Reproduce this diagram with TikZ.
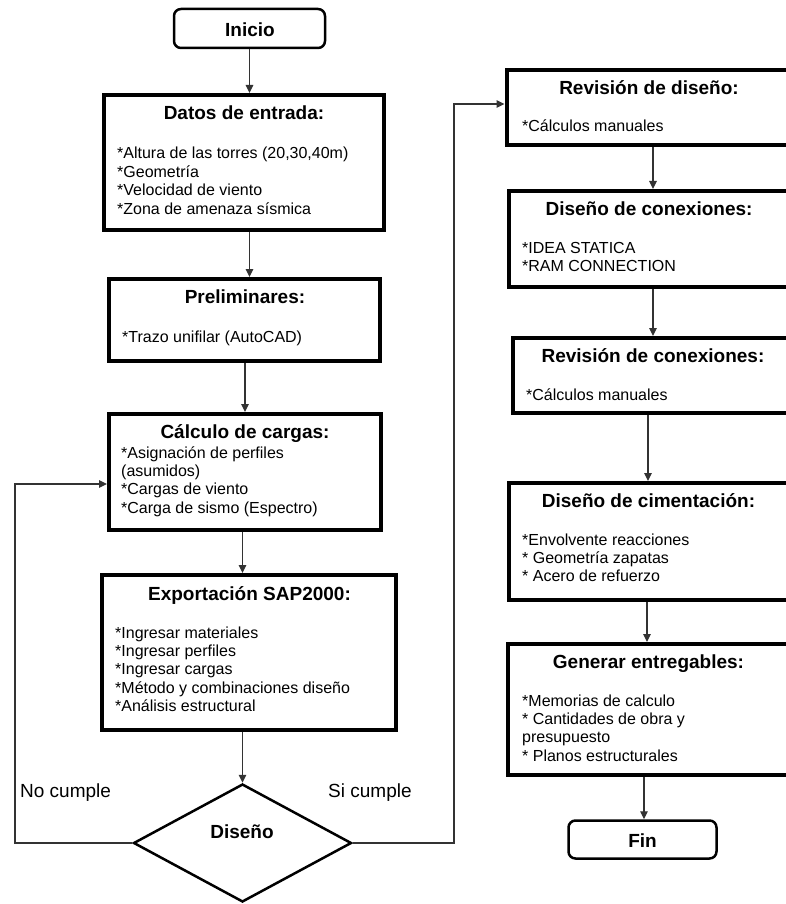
\documentclass[tikz,border=0pt]{standalone}
\usepackage{fontspec}
\setmainfont{Liberation Sans}
\usetikzlibrary{arrows.meta,shapes.geometric}
\newcommand\itemlist[1]{\begin{tabular}[t]{@{}l@{}}#1\end{tabular}}
\newcommand\nl{\\\relax}
\begin{document}
\begin{tikzpicture}[x=1pt,y=-1pt,
  box/.style={draw=black, line width=4pt, rectangle, inner sep=0pt},
  term/.style={draw=black, line width=2.5pt, rectangle, rounded corners=7pt, inner sep=0pt},
  dec/.style={draw=black, line width=2.5pt, diamond, inner sep=0pt},
  ttl/.style={font=\fontsize{19}{21}\selectfont\bfseries, anchor=base, inner sep=0pt},
  itm/.style={font=\fontsize{16}{18.4}\selectfont, anchor=base west, inner sep=0pt},
  lbl/.style={font=\fontsize{19}{21}\selectfont, anchor=base west, inner sep=0pt},
  arr/.style={draw=black!80, line width=1.1pt, -{Triangle[length=8pt,width=7.5pt]}},
]
\useasboundingbox (0,0) rectangle (786,904);
\clip (0,0) rectangle (786,904);
\fill[white] (0,0) rectangle (786,904);

% left column
\node[term, minimum width=151pt, minimum height=39pt] (inicio) at (249.5,28.5) {};
\node[box, minimum width=280pt, minimum height=135pt] (datos) at (244,162.5) {};
\node[box, minimum width=271pt, minimum height=82pt] (prelim) at (244.5,320) {};
\node[box, minimum width=272pt, minimum height=116pt] (calc) at (245,472) {};
\node[box, minimum width=294pt, minimum height=155pt] (export) at (249,652.5) {};
\node[dec, minimum width=218pt, minimum height=118pt] (dis) at (242.5,843) {};

% right column
\node[box, minimum width=284pt, minimum height=75pt] (rev) at (648.5,107.5) {};
\node[box, minimum width=282pt, minimum height=96pt] (con) at (649.5,239) {};
\node[box, minimum width=278pt, minimum height=75pt] (revcon) at (651.5,375.5) {};
\node[box, minimum width=282pt, minimum height=117pt] (cim) at (649.5,541.5) {};
\node[box, minimum width=283pt, minimum height=131pt] (ent) at (649,709.5) {};
\node[term, minimum width=148pt, minimum height=38pt] (fin) at (642.5,839.5) {};

% texts
\node[ttl] (tinicio) at (250,37) {Inicio};
\node[ttl] (tdatos) at (244,120) {Datos de entrada:};
\node[itm] (idatos) at (117,159) {\itemlist{*Altura de las torres (20,30,40m)\nl *Geometría\nl *Velocidad de viento\nl *Zona de amenaza sísmica}};
\node[ttl] (tprelim) at (245,303) {Preliminares:};
\node[itm] (iprelim) at (122,342) {\itemlist{*Trazo unifilar (AutoCAD)}};
\node[ttl] (tcalc) at (245,438) {Cálculo de cargas:};
\node[itm] (icalc) at (121,458) {\itemlist{*Asignación de perfiles\nl (asumidos)\nl *Cargas de viento\nl *Carga de sismo (Espectro)}};
\node[ttl] (texport) at (249.5,600) {Exportación SAP2000:};
\node[itm] (iexport) at (115,638) {\itemlist{*Ingresar materiales\nl *Ingresar perfiles\nl *Ingresar cargas\nl *Método y combinaciones diseño\nl *Análisis estructural}};
\node[ttl] (tdis) at (242,838) {Diseño};
\node[lbl] (lno) at (20,797) {No cumple};
\node[lbl] (lsi) at (328,797) {Si cumple};

\node[ttl] (trev) at (649,95) {Revisión de diseño:};
\node[itm] (irev) at (522,132) {\itemlist{*Cálculos manuales}};
\node[ttl] (tcon) at (649,215) {Diseño de conexiones:};
\node[itm] (icon) at (522,253) {\itemlist{*IDEA STATICA\nl *RAM CONNECTION}};
\node[ttl] (trevcon) at (653,362) {Revisión de conexiones:};
\node[itm] (irevcon) at (526,400) {\itemlist{*Cálculos manuales}};
\node[ttl] (tcim) at (648.5,507) {Diseño de cimentación:};
\node[itm] (icim) at (522,545) {\itemlist{*Envolvente reacciones\nl * Geometría zapatas\nl * Acero de refuerzo}};
\node[ttl] (tent) at (648.5,668) {Generar entregables:};
\node[itm] (ient) at (522,706) {\itemlist{*Memorias de calculo\nl * Cantidades de obra y\nl presupuesto\nl * Planos estructurales}};
\node[ttl] (tfin) at (642.5,847) {Fin};

% connector guides
\coordinate (nlft) at (15,0);
\coordinate (sr) at (454,0);
\coordinate (rx1) at (653,0);
\coordinate (rx2) at (648,0);
\coordinate (rx3) at (647,0);
\coordinate (rx4) at (644,0);

% connectors
\draw[arr] (inicio.south) -- (inicio.south |- datos.north);
\draw[arr] (datos.south -| inicio.south) -- (prelim.north -| inicio.south);
\draw[arr] (prelim.south -| calc.north) -- (calc.north);
\draw[arr] (calc.south -| dis.north) -- (export.north -| dis.north);
\draw[arr] (export.south -| dis.north) -- (dis.north);
\draw[arr] (dis.west) -- (dis.west -| nlft) |- ([yshift=-12pt]calc.west);
\draw[arr] (dis.east) -- (dis.east -| sr) |- ([yshift=3.5pt]rev.west);
\draw[arr] (rev.south -| rx1) -- (con.north -| rx1);
\draw[arr] (con.south -| rx1) -- (revcon.north -| rx1);
\draw[arr] (revcon.south -| rx2) -- (cim.north -| rx2);
\draw[arr] (cim.south -| rx3) -- (ent.north -| rx3);
\draw[arr] (ent.south -| rx4) -- (fin.north -| rx4);
\end{tikzpicture}
\end{document}
